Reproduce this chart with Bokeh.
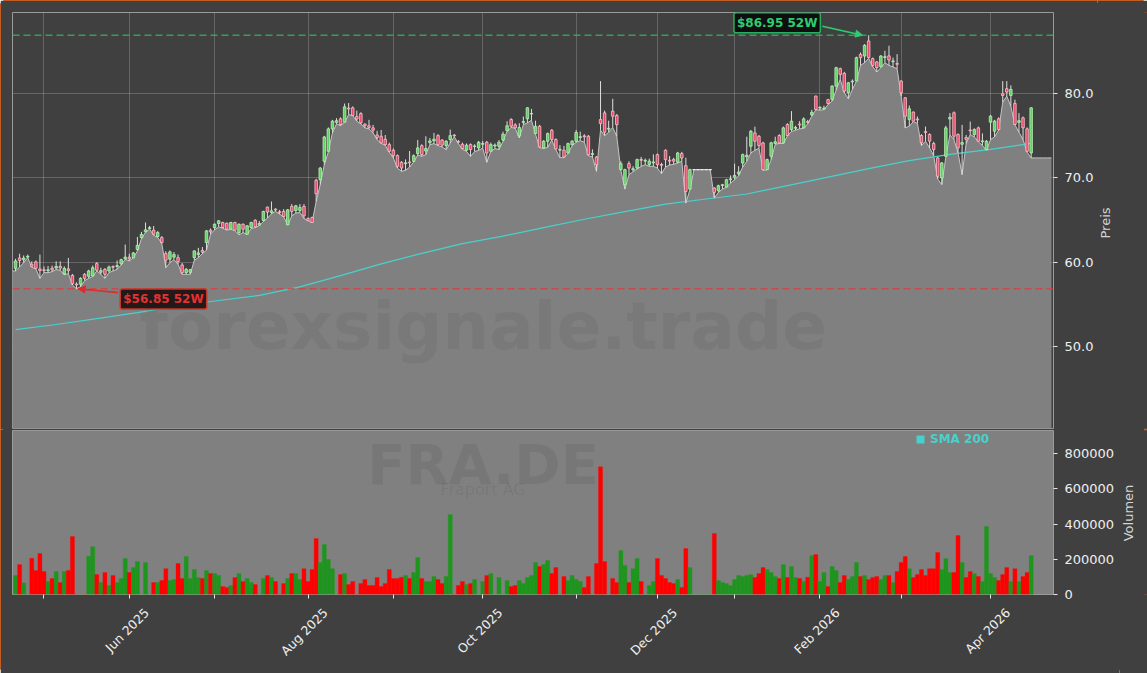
import math
import numpy as np
import pandas as pd
from bokeh.plotting import figure
from bokeh.layouts import column, row
from bokeh.models import (ColumnDataSource, Range1d, FixedTicker, SingleIntervalTicker, Span,
                          Label, Arrow, NormalHead, Legend, LegendItem, PrintfTickFormatter,
                          LinearAxis)
from bokeh.embed import file_html
from bokeh.resources import INLINE

NA = float("nan")

# ---------------- data (trading-day index, Apr 2025 .. Apr 2026) ----------------
opens = [
    59.27, 60.50, 60.30, 60.60, 59.75, 60.03, 59.20, 59.10, 59.00, 59.30,
    59.30, 59.50, 58.60, 59.20, 58.44, 57.40, 57.37, 58.56, 58.32, 58.36,
    59.83, 58.80, 59.15, 58.96, 59.50, 59.50, 59.80, 60.40, 60.60, 60.50,
    61.50, 62.90, 63.60, 64.00, 63.80, 63.04, 62.92, 61.02, 60.35, 60.60,
    60.54, 59.67, 58.76, 58.80, 60.54, 60.90, 61.40, 62.33, 63.80, 64.11,
    64.59, 64.71, 64.63, 63.92, 64.71, 63.52, 64.51, 63.32, 64.11, 64.98,
    64.40, 64.95, 66.54, 65.90, 66.30, 66.00, 66.03, 64.44, 66.62, 66.14,
    66.14, 66.62, 65.20, 65.31, 69.72, 69.80, 71.98, 73.17, 75.83, 76.60,
    77.02, 76.62, 78.30, 78.33, 77.30, 77.65, 76.40, 76.20, 75.95, 75.10,
    74.95, 74.60, 73.96, 73.29, 72.65, 71.86, 71.70, 71.90, 71.98, 72.89,
    73.84, 73.20, 74.20, 74.40, 75.03, 74.50, 73.84, 74.56, 75.10, 74.35,
    74.00, 73.30, 73.96, 73.75, 73.57, 74.00, 74.24, 73.17, 73.80, 73.76,
    74.50, 75.60, 76.94, 76.30, 75.00, 76.60, 77.02, 77.60, 75.27, 76.14,
    73.56, 74.36, 75.67, 74.56, 73.30, 73.29, 72.97, 73.96, 74.36, 74.80,
    75.00, 74.95, 72.80, 72.49, 76.94, 77.73, 75.80, 77.93, 77.41, 70.99,
    69.20, 71.70, 70.99, 71.18, 72.20, 72.00, 71.60, 71.80, 72.77, 71.60,
    73.29, 72.10, 72.20, 71.86, 72.89, 71.46, 68.68, 70.99, 70.99, 70.99,
    70.99, 70.99, 68.80, 68.52, 69.10, 68.92, 69.80, 70.10, 70.50, 71.78,
    72.50, 73.76, 75.35, 74.95, 74.16, 70.99, 72.58, 74.10, 75.04, 74.17,
    76.35, 75.75, 75.90, 76.40, 75.95, 76.70, 77.50, 79.72, 78.30, 78.20,
    79.30, 79.33, 80.91, 82.98, 82.42, 80.12, 81.40, 81.51, 84.68, 84.48,
    86.27, 84.17, 83.77, 83.22, 84.30, 84.50, 83.80, 83.60, 81.51, 79.52,
    76.95, 77.82, 77.00, 75.04, 75.50, 75.16, 74.09, 72.38, 70.00, 72.58,
    77.00, 77.74, 75.16, 74.00, 74.80, 75.70, 75.16, 75.95, 74.30, 73.37,
    76.63, 75.56, 77.02, 80.00, 80.60, 79.80, 78.85, 76.60, 77.14, 75.83, 72.98,
] + [NA] * 5

highs = [
    60.40, 61.00, 60.80, 60.90, 60.10, 60.20, 60.90, 59.50, 59.55, 59.60,
    60.10, 60.10, 59.50, 60.50, 58.60, 57.60, 58.20, 58.70, 59.10, 59.60,
    60.00, 59.35, 59.30, 59.60, 59.60, 60.20, 60.40, 62.10, 61.00, 61.20,
    63.00, 63.60, 64.71, 64.30, 64.30, 63.70, 63.10, 61.30, 61.40, 61.20,
    60.90, 59.90, 59.30, 59.20, 61.40, 61.70, 61.80, 63.80, 64.00, 64.60,
    65.00, 64.80, 64.70, 64.80, 64.80, 64.60, 64.60, 64.40, 64.80, 65.10,
    64.90, 66.10, 66.60, 67.20, 66.40, 66.20, 66.30, 66.30, 66.90, 66.80,
    66.90, 66.90, 65.30, 65.40, 69.90, 71.30, 75.00, 76.00, 76.90, 77.10,
    77.20, 78.84, 78.90, 78.50, 78.00, 77.80, 76.50, 76.90, 76.30, 75.60,
    75.70, 75.10, 74.20, 73.50, 72.80, 72.00, 72.20, 73.20, 72.80, 74.50,
    74.00, 74.95, 74.75, 75.35, 75.20, 74.60, 74.50, 75.75, 75.20, 74.50,
    74.20, 74.10, 74.10, 74.00, 74.40, 74.40, 74.40, 74.20, 74.10, 74.50,
    75.50, 76.74, 77.10, 76.50, 76.50, 77.30, 78.40, 78.20, 76.80, 76.30,
    74.50, 75.40, 75.80, 74.70, 73.90, 73.80, 74.20, 74.50, 75.70, 75.50,
    75.20, 75.10, 73.40, 72.60, 81.50, 78.00, 76.80, 79.40, 77.60, 72.00,
    71.10, 72.00, 71.40, 72.30, 72.50, 72.30, 72.30, 72.80, 72.90, 71.80,
    73.40, 72.60, 72.40, 73.10, 73.10, 72.40, 71.10, 70.99, 70.99, 70.99,
    70.99, 70.99, 68.90, 69.20, 69.30, 69.90, 70.30, 71.70, 71.40, 72.90,
    74.90, 75.70, 76.10, 75.10, 74.30, 72.30, 74.30, 74.90, 75.20, 76.10,
    76.50, 77.94, 76.20, 76.75, 77.20, 76.90, 78.10, 79.80, 78.50, 78.60,
    79.40, 81.00, 83.20, 83.10, 82.60, 81.40, 81.70, 84.40, 84.90, 85.90,
    86.95, 84.30, 83.90, 84.60, 85.10, 85.70, 84.30, 84.70, 81.60, 79.60,
    78.60, 77.90, 77.30, 75.20, 76.10, 75.30, 74.30, 72.50, 71.90, 76.20,
    77.70, 77.90, 75.30, 76.30, 75.10, 76.70, 75.90, 76.10, 75.30, 74.50,
    77.50, 76.90, 77.20, 81.50, 81.50, 81.00, 79.30, 77.70, 77.30, 76.00, 78.40,
] + [NA] * 5

lows = [
    58.96, 59.43, 59.95, 60.54, 59.40, 59.20, 58.08, 58.76, 58.76, 58.88,
    59.12, 59.04, 58.50, 58.64, 57.29, 56.85, 57.09, 57.80, 58.08, 58.30,
    58.96, 58.56, 58.08, 58.76, 58.96, 59.15, 59.67, 60.35, 60.15, 60.50,
    61.34, 62.81, 63.55, 63.92, 63.20, 62.95, 62.20, 59.35, 59.95, 60.30,
    59.75, 58.56, 58.56, 58.56, 60.23, 60.54, 61.02, 61.42, 63.32, 63.84,
    64.19, 64.04, 63.80, 63.90, 63.75, 63.24, 63.52, 63.30, 64.00, 64.11,
    64.35, 64.84, 65.23, 65.75, 66.03, 65.71, 65.40, 64.40, 65.50, 65.83,
    65.91, 65.19, 64.92, 64.70, 67.22, 69.20, 71.58, 73.10, 75.35, 76.42,
    76.22, 76.60, 77.53, 77.40, 76.74, 76.42, 75.95, 75.83, 75.35, 74.56,
    74.10, 73.90, 73.05, 72.38, 71.18, 70.79, 70.91, 71.30, 71.90, 72.73,
    72.57, 72.77, 73.96, 74.08, 73.84, 73.68, 73.37, 74.16, 74.88, 74.10,
    73.40, 73.17, 72.57, 73.13, 73.29, 73.53, 71.86, 73.17, 73.49, 73.37,
    74.36, 75.55, 76.00, 75.90, 74.76, 76.34, 76.54, 76.86, 75.20, 73.60,
    73.50, 73.64, 74.50, 73.37, 72.41, 72.41, 72.90, 73.84, 74.24, 74.44,
    74.24, 72.65, 72.49, 70.79, 75.67, 75.03, 75.43, 76.00, 74.95, 70.90,
    68.68, 70.39, 70.75, 71.06, 71.38, 71.58, 71.38, 71.38, 71.18, 70.51,
    71.30, 71.54, 71.62, 71.78, 71.98, 67.02, 68.60, 70.99, 70.99, 70.99,
    70.99, 70.99, 67.61, 68.29, 68.68, 68.90, 69.40, 69.79, 70.27, 71.30,
    71.98, 72.97, 73.29, 73.52, 70.90, 70.95, 72.18, 74.00, 74.10, 74.10,
    75.00, 75.52, 75.68, 75.83, 75.90, 76.43, 77.34, 78.10, 78.06, 78.10,
    78.73, 79.13, 80.44, 81.71, 80.12, 79.41, 80.52, 81.50, 83.37, 83.69,
    84.20, 83.22, 82.58, 83.10, 83.69, 83.37, 83.18, 82.98, 79.72, 75.95,
    76.15, 76.70, 76.47, 73.85, 74.37, 73.57, 72.66, 69.88, 69.21, 72.50,
    75.12, 74.56, 72.98, 70.40, 74.09, 75.16, 74.88, 74.30, 73.85, 73.30,
    74.56, 74.88, 75.70, 79.01, 79.72, 78.53, 76.30, 75.44, 74.56, 73.06, 72.38,
] + [NA] * 5

closes = [
    60.15, 60.20, 60.50, 60.70, 59.51, 59.27, 59.00, 59.00, 59.10, 59.10,
    59.50, 59.30, 59.27, 59.00, 57.45, 57.30, 58.08, 58.08, 58.96, 59.35,
    59.04, 59.00, 58.56, 59.43, 59.40, 59.60, 60.30, 60.60, 60.40, 61.10,
    62.00, 63.30, 63.84, 64.10, 63.32, 63.52, 62.33, 60.23, 61.22, 60.90,
    60.07, 58.76, 59.15, 59.10, 61.34, 61.10, 61.20, 63.72, 63.60, 64.51,
    64.91, 64.11, 63.92, 64.71, 63.80, 64.51, 63.92, 64.32, 64.71, 64.20,
    64.60, 66.03, 65.95, 66.10, 66.20, 65.90, 65.43, 66.22, 66.03, 66.70,
    66.50, 65.51, 64.94, 64.72, 68.13, 71.18, 74.87, 75.83, 76.74, 76.80,
    76.34, 78.45, 78.20, 77.42, 77.00, 76.54, 76.20, 76.00, 75.67, 74.80,
    74.16, 73.96, 73.17, 72.65, 71.38, 71.18, 71.80, 71.80, 72.65, 73.57,
    72.77, 73.50, 74.40, 74.60, 73.96, 73.90, 74.36, 75.03, 75.00, 74.25,
    73.50, 73.90, 73.37, 73.80, 74.24, 74.10, 72.97, 73.96, 73.90, 74.24,
    75.20, 76.20, 76.14, 75.95, 76.00, 76.70, 78.33, 77.65, 76.14, 73.68,
    74.36, 75.27, 74.56, 73.45, 73.40, 72.49, 74.08, 74.36, 75.40, 74.90,
    74.90, 72.77, 72.90, 71.58, 76.46, 75.43, 75.90, 77.33, 76.34, 71.70,
    70.99, 71.18, 71.10, 72.18, 72.10, 72.10, 72.00, 71.90, 71.58, 71.50,
    72.18, 72.00, 72.00, 72.97, 72.37, 68.40, 70.99, 70.99, 70.99, 70.99,
    70.99, 70.99, 68.29, 69.08, 69.20, 69.79, 69.90, 70.30, 70.70, 72.77,
    72.70, 75.55, 74.36, 73.84, 70.99, 72.18, 74.17, 74.30, 74.17, 75.95,
    75.04, 76.75, 76.00, 76.30, 77.02, 76.60, 77.80, 78.13, 78.40, 78.30,
    78.85, 80.91, 83.10, 82.30, 80.32, 81.31, 81.50, 84.29, 84.29, 85.75,
    84.29, 83.37, 83.10, 84.48, 84.40, 84.00, 83.90, 83.50, 80.12, 77.34,
    78.21, 76.75, 76.90, 74.17, 75.40, 74.37, 73.37, 70.20, 71.79, 75.95,
    77.20, 74.96, 73.57, 74.20, 74.60, 75.60, 75.75, 74.37, 74.40, 74.37,
    77.34, 76.75, 75.75, 79.80, 80.20, 80.52, 76.35, 76.80, 75.95, 73.17, 78.33,
] + [NA] * 5

volume_k = [
    108, 170, 66, 0, 206, 136, 233, 130, 74, 91,
    130, 68, 130, 136, 329, 0, 0, 0, 217, 272,
    113, 68, 125, 51, 108, 68, 91, 204, 125, 153,
    187, 0, 182, 0, 68, 68, 79, 147, 79, 85,
    176, 91, 216, 91, 142, 96, 91, 136, 119, 119,
    108, 45, 40, 51, 96, 119, 74, 91, 68, 57,
    0, 91, 108, 96, 74, 0, 62, 91, 119, 119,
    85, 147, 74, 142, 318, 182, 284, 199, 147, 0,
    113, 119, 57, 74, 0, 62, 85, 51, 51, 96,
    45, 62, 142, 91, 91, 98, 108, 91, 125, 210,
    91, 74, 74, 102, 85, 62, 102, 454, 0, 51,
    74, 57, 62, 85, 0, 74, 108, 119, 0, 96,
    0, 79, 45, 51, 79, 62, 96, 108, 182, 159,
    170, 193, 119, 153, 0, 102, 79, 108, 85, 74,
    40, 102, 0, 176, 726, 187, 0, 91, 68, 250,
    165, 68, 147, 204, 74, 0, 51, 74, 204, 108,
    91, 68, 62, 85, 40, 261, 153, 0, 0, 0,
    0, 0, 346, 79, 68, 62, 51, 85, 108, 102,
    108, 113, 96, 119, 153, 142, 125, 102, 91, 170,
    96, 159, 96, 91, 74, 98, 221, 227, 74, 125,
    45, 159, 136, 68, 108, 85, 102, 182, 102, 108,
    85, 96, 102, 85, 108, 108, 68, 130, 182, 216,
    147, 96, 113, 142, 108, 147, 147, 238, 142, 204,
    125, 125, 335, 182, 96, 130, 119, 102, 74, 386,
    119, 96, 79, 113, 153, 74, 147, 74, 102, 125, 221,
] + [NA] * 5

# 200-day simple moving average, read every 10 trading days
sma_idx = [0, 10, 20, 30, 40, 50, 60, 70, 80, 90, 100, 110, 120,
           130, 140, 150, 160, 170, 180, 190, 200, 210, 220, 230, 240, 250]
sma_val = [52.0, 52.6, 53.3, 54.0, 54.8, 55.45, 56.05, 57.06, 58.4, 59.8, 61.05, 62.2, 63.1,
           64.1, 65.1, 66.0, 66.9, 67.5, 68.1, 69.1, 70.1, 71.1, 72.05, 72.8, 73.4, 74.1]

# first trading day of each month (index) and its label
month_idx = [7, 28, 49, 72, 93, 115, 138, 158, 177, 198, 218, 240]
month_lbl = ["May 2025", "Jun 2025", "Jul 2025", "Aug 2025", "Sep 2025", "Oct 2025",
             "Nov 2025", "Dec 2025", "Jan 2026", "Feb 2026", "Mar 2026", "Apr 2026"]
month_shown = [False, True, False, True, False, True, False, True, False, True, False, True]

high_52w = 86.95
low_52w = 56.85
ticker = "FRA.DE"
company = "Fraport AG"
watermark = "forexsignale.trade"
price_title = "Preis"
volume_title = "Volumen"

# ---------------- styling ----------------
FONT = "DejaVu Sans"
DARK = "#404040"
AREA = "#808080"
UP_FILL, UP_LINE = "#63d063", "#b9f2b9"
DN_FILL, DN_LINE = "#e64a6a", "#ffc0cc"
VOL_UP, VOL_DN = "#1e961e", "#ff0000"
SMA_COL = "#48d1cc"
LABEL_SHIFT = 4.3   # centre the rotated month labels on their tick (index units)
W, H1, H2 = 1147, 429, 244
BL = 12
FRAME_RIGHT = 1053
P1_W, P2_W = 1097, 1119   # price / volume figure widths; the rest holds the axis titles
P1_TOP, P1_BOT = 12, 1
P2_TOP, P2_BOT = 1, 79

df = pd.DataFrame(dict(o=opens, h=highs, l=lows, c=closes, v=np.array(volume_k) * 1000.0))
df["x"] = np.arange(len(df))
df["area"] = df["l"].ffill()
df["top"] = df[["o", "c"]].max(axis=1)
df["bot"] = df[["o", "c"]].min(axis=1)
traded = df["o"].notna()
flat = traded & (df["h"] == df["l"])
body = traded & ~flat
up = body & (df["c"] >= df["o"])
dn = body & (df["c"] < df["o"])
df["vcol"] = np.where(df["c"] >= df["o"], VOL_UP, VOL_DN)

n = len(df)
xr = Range1d(-0.75, n - 0.5)
yr_price = Range1d(40.25, 89.65)
yr_vol = Range1d(0, 932000)


def style_y(ax):
    ax.major_label_text_font = FONT
    ax.major_label_text_font_size = "13px"
    ax.major_label_text_color = "#efefef"
    ax.major_label_standoff = 7
    ax.major_tick_out = 4
    ax.major_tick_in = 0
    ax.major_tick_line_color = "#e6e6e6"
    ax.minor_tick_line_color = None
    ax.axis_line_color = None


def title_strip(width, height, top, bottom, text, cx, cy_from_frame_bottom):
    s = figure(width=width, height=height, x_range=Range1d(0, 1), y_range=Range1d(0, 1),
               output_backend="svg", toolbar_location=None,
               min_border_left=0, min_border_right=0, min_border_top=top,
               min_border_bottom=bottom,
               background_fill_color=DARK, border_fill_color=DARK)
    s.axis.visible = False
    s.grid.visible = False
    s.outline_line_color = None
    s.add_layout(Label(x=cx, y=cy_from_frame_bottom, x_units="screen", y_units="screen",
                       text=text, angle=math.pi / 2, text_font=FONT, text_font_size="13px",
                       text_color="#d4d4d4", text_align="center", text_baseline="middle"))
    return s


# ---------------- price panel ----------------
p1 = figure(width=P1_W, height=H1, x_range=xr, y_range=yr_price, y_axis_location="right",
            output_backend="svg", toolbar_location=None,
            min_border_left=BL, min_border_right=P1_W - FRAME_RIGHT, min_border_top=P1_TOP,
            min_border_bottom=P1_BOT, background_fill_color=DARK, border_fill_color=DARK)
p1.outline_line_color = "#9a9a9a"
p1.outline_line_width = 1
p1.xaxis.visible = False
p1.xgrid.ticker = FixedTicker(ticks=month_idx)
p1.yaxis.ticker = SingleIntervalTicker(interval=10)
p1.ygrid.ticker = SingleIntervalTicker(interval=10)
p1.yaxis.formatter = PrintfTickFormatter(format="%.1f")
for g in (p1.xgrid, p1.ygrid):
    g.grid_line_color = "#ffffff"
    g.grid_line_alpha = 0.2
    g.grid_line_width = 1
style_y(p1.yaxis)

# area under the daily lows, carried to both frame edges
area_x = [xr.start] + df["x"].tolist()
area_y = [df["area"].iloc[0]] + df["area"].tolist()
src = ColumnDataSource(dict(x=area_x, y=area_y))
p1.varea(x="x", y1=yr_price.start, y2="y", source=src, fill_color=AREA, fill_alpha=1.0)
p1.line(x="x", y="y", source=src, line_color="#c4c4c4", line_width=1)

p1.add_layout(Label(x=xr.start + 0.452 * (xr.end - xr.start),
                    y=yr_price.start + 0.245 * (yr_price.end - yr_price.start),
                    text=watermark, text_font=FONT, text_font_size="66px",
                    text_font_style="bold", text_color="#000000", text_alpha=0.055,
                    text_align="center", text_baseline="middle"))

p1.line(x=sma_idx, y=sma_val, line_color=SMA_COL, line_width=1.2)

t = df[traded]
p1.segment(x0=t["x"], y0=t["l"], x1=t["x"], y1=t["h"], line_color="#dedede", line_width=1)
u = df[up]
d = df[dn]
p1.vbar(x=u["x"], width=0.62, top=u["top"], bottom=u["bot"],
        fill_color=UP_FILL, line_color=UP_LINE, line_width=0.8)
p1.vbar(x=d["x"], width=0.62, top=d["top"], bottom=d["bot"],
        fill_color=DN_FILL, line_color=DN_LINE, line_width=0.8)
f = df[flat]
p1.scatter(x=f["x"], y=f["c"], marker="dash", size=3, line_color="#eeeeee", line_width=1.2)

p1.add_layout(Span(location=high_52w, dimension="width", line_color="#2fbf64",
                   line_alpha=0.75, line_dash="7 4", line_width=1.6))
p1.add_layout(Span(location=low_52w, dimension="width", line_color="#e03a3a",
                   line_alpha=0.75, line_dash="7 4", line_width=1.6))

i_hi = int(df["h"].idxmax())
i_lo = int(df["l"].idxmin())

lbl_kw = {}
if "padding" in Label.properties():
    lbl_kw["padding"] = 3
if "border_radius" in Label.properties():
    lbl_kw["border_radius"] = 2

p1.add_layout(Arrow(end=NormalHead(size=7, fill_color="#2ecc71", line_color="#2ecc71"),
                    x_start=i_hi - 11.4, y_start=high_52w + 1.07,
                    x_end=i_hi - 1.5, y_end=high_52w,
                    line_color="#2ecc71", line_width=1.6))
p1.add_layout(Label(x=i_hi, y=high_52w, x_offset=-91.5, y_offset=12.5,
                    text=f"${high_52w:.2f} 52W", text_font=FONT, text_font_size="12px",
                    text_font_style="bold", text_color="#2ecc71",
                    text_align="center", text_baseline="middle",
                    background_fill_color="#0b0b0b", background_fill_alpha=0.92,
                    border_line_color="#27ae60", border_line_width=1.5, **lbl_kw))

p1.add_layout(Arrow(end=NormalHead(size=7, fill_color="#e02b2b", line_color="#e02b2b"),
                    x_start=i_lo + 10.2, y_start=low_52w - 0.47,
                    x_end=i_lo + 0.4, y_end=low_52w,
                    line_color="#e02b2b", line_width=1.6))
p1.add_layout(Label(x=i_lo, y=low_52w, x_offset=87, y_offset=-10.3,
                    text=f"${low_52w:.2f} 52W", text_font=FONT, text_font_size="12px",
                    text_font_style="bold", text_color="#e23232",
                    text_align="center", text_baseline="middle",
                    background_fill_color="#1c1010", background_fill_alpha=0.92,
                    border_line_color="#c0392b", border_line_width=1.5, **lbl_kw))

# ---------------- volume panel ----------------
p2 = figure(width=P2_W, height=H2, x_range=xr, y_range=yr_vol, y_axis_location="right",
            output_backend="svg", toolbar_location=None,
            min_border_left=BL, min_border_right=P2_W - FRAME_RIGHT, min_border_top=P2_TOP,
            min_border_bottom=P2_BOT, background_fill_color=AREA, border_fill_color=DARK)
p2.outline_line_color = "#9a9a9a"
p2.outline_line_width = 1
p2.grid.visible = False
p2.yaxis.ticker = SingleIntervalTicker(interval=200000)
p2.yaxis.formatter = PrintfTickFormatter(format="%d")
style_y(p2.yaxis)

# month tick marks (no text)
xa = p2.xaxis[0]
xa.ticker = FixedTicker(ticks=month_idx)
xa.major_label_overrides = {i: "" for i in month_idx}
xa.major_label_text_font_size = "0px"
xa.major_label_standoff = 0
xa.major_tick_out = 4
xa.major_tick_in = 0
xa.major_tick_line_color = "#e6e6e6"
xa.minor_tick_line_color = None
xa.axis_line_color = None

# rotated month names, centred below their ticks
lab_pos = [i + LABEL_SHIFT for i in month_idx]
xb = LinearAxis(ticker=FixedTicker(ticks=lab_pos))
xb.major_label_overrides = {p: (lab if s else "") for p, lab, s in zip(lab_pos, month_lbl, month_shown)}
xb.major_label_orientation = math.pi / 4
xb.major_label_text_font = FONT
xb.major_label_text_font_size = "12.5px"
xb.major_label_text_color = "#efefef"
xb.major_label_standoff = 12
xb.major_tick_out = 0
xb.major_tick_in = 0
xb.major_tick_line_color = None
xb.minor_tick_line_color = None
xb.axis_line_color = None
p2.add_layout(xb, "below")

p2.add_layout(Label(x=xr.start + 0.452 * (xr.end - xr.start),
                    y=yr_vol.start + 0.793 * (yr_vol.end - yr_vol.start),
                    text=ticker, text_font=FONT, text_font_size="56px", text_font_style="bold",
                    text_color="#000000", text_alpha=0.065,
                    text_align="center", text_baseline="middle"))
p2.add_layout(Label(x=xr.start + 0.452 * (xr.end - xr.start),
                    y=yr_vol.start + 0.638 * (yr_vol.end - yr_vol.start),
                    text=company, text_font=FONT, text_font_size="16px",
                    text_color="#000000", text_alpha=0.08,
                    text_align="center", text_baseline="middle"))

vsrc = ColumnDataSource(df[traded][["x", "v", "vcol"]])
p2.vbar(x="x", width=1.0, top="v", bottom=0, source=vsrc, fill_color="vcol",
        line_color="vcol", line_width=0.3)

proxy = p2.quad(left=[NA], right=[NA], top=[NA], bottom=[NA], fill_color=SMA_COL, line_color=None)
leg = Legend(items=[LegendItem(label="SMA 200", renderers=[proxy])],
             location=(903, 148), orientation="horizontal",
             background_fill_alpha=0, border_line_alpha=0,
             label_text_color=SMA_COL, label_text_font=FONT, label_text_font_size="12px",
             label_text_font_style="bold", glyph_width=10, glyph_height=10,
             label_standoff=5, padding=0, margin=0, spacing=0, label_height=12)
p2.add_layout(leg)

# ---------------- axis titles (read bottom-to-top, as in the original) ----------------
# title centres: x=1105 / 1128 px, y=222.5 / 512.5 px (page coordinates)
t1 = title_strip(W - P1_W, H1, P1_TOP, P1_BOT, price_title, 1105 - P1_W, (H1 - P1_BOT) - 222.5)
t2 = title_strip(W - P2_W, H2, P2_TOP, P2_BOT, volume_title, 1128 - P2_W,
                 (H1 + H2 - P2_BOT) - 512.5)

layout = column(row(p1, t1, spacing=0), row(p2, t2, spacing=0), spacing=0,
                styles={"outline": "3px solid #f2661a", "outline-offset": "-3px",
                        "border-radius": "6px", "background-color": DARK})

html = file_html(layout, INLINE, "FRA.DE")
open("out.html", "w").write(html)
